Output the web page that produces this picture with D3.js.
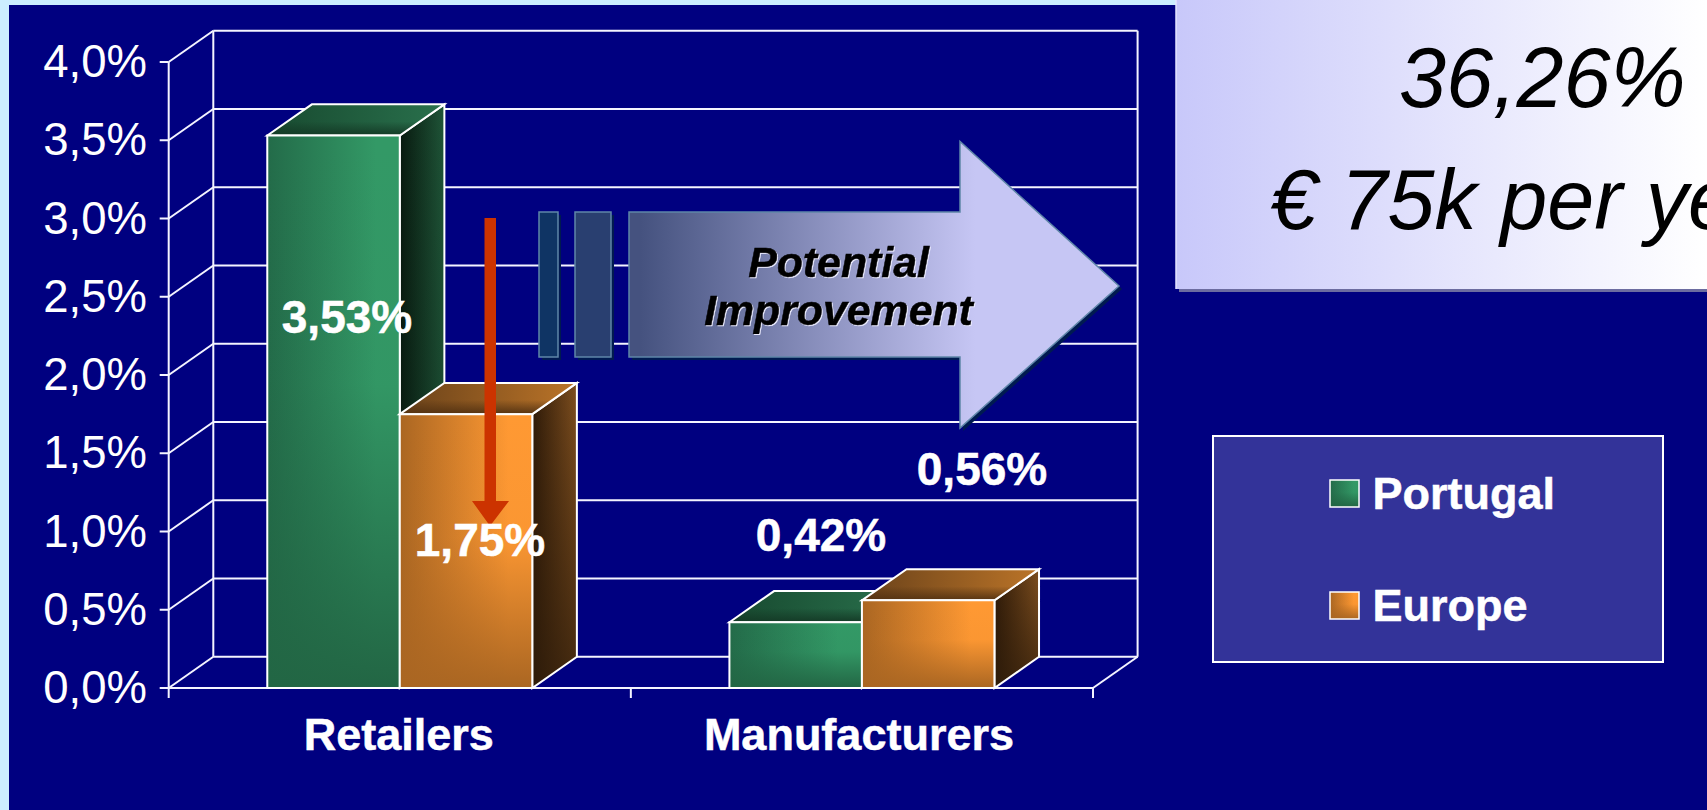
<!DOCTYPE html>
<html><head><meta charset="utf-8">
<script src="https://cdn.jsdelivr.net/npm/d3@7"></script>
<style>
html,body{margin:0;padding:0;background:#cceeff;overflow:hidden}
svg{display:block;font-family:"Liberation Sans",Arial,sans-serif}
</style></head><body>
<svg id="c" width="1707" height="810"></svg>
<script>
const categories = ["Retailers", "Manufacturers"];
const seriesNames = ["Portugal", "Europe"];
const portugal = [3.53, 0.42];
const europe = [1.75, 0.56];
const yTicks = [0, 0.5, 1, 1.5, 2, 2.5, 3, 3.5, 4];
const calloutLines = ["36,26%", "€ 75k per year"];
const arrowLines = ["Potential", "Improvement"];

const W = 1707, H = 810;
const svg = d3.select("#c");
const defs = svg.append("defs");
const fmt = v => v.toFixed(1).replace(".", ",") + "%";
const fmt2 = v => v.toFixed(2).replace(".", ",") + "%";

const y = d3.scaleLinear().domain([0, 4]).range([688, 62]);
const x0 = d3.scaleBand().domain(categories).range([168.7, 1093]);
const x1 = d3.scaleBand().domain(seriesNames).range([-132.5, 132.5]);
const DX = 44.6, DY = -31.2;

function grad(id, stops, dir) {
  const g = defs.append("linearGradient").attr("id", id)
    .attr("x1", 0).attr("y1", 0)
    .attr("x2", dir === "v" ? 0 : 1).attr("y2", dir === "v" ? 1 : 0);
  stops.forEach(s => g.append("stop").attr("offset", s[0]).attr("stop-color", s[1]).attr("stop-opacity", s[2] === undefined ? 1 : s[2]));
}
// green
grad("gF", [[0, "#236b49"], [.82, "#339966"], [1, "#339966"]]);
grad("gFo", [[0, "#226644", 0], [.45, "#226644", 0.05], [1, "#226644", 1]], "v");
grad("gS", [[0, "#08190f"], [1, "#1f5538"]]);
grad("gSo", [[0, "#0a2014", 0], [1, "#0a2014", .35]], "v");
grad("gT", [[0, "#184a30"], [1, "#29704c"]]);
grad("gTo", [[0, "#143a26", 0], [.55, "#143a26", 0], [1, "#143a26", 1]], "v");
// orange
grad("oF", [[0, "#aa6622"], [.82, "#ff9933"], [1, "#ff9933"]]);
grad("oFo", [[0, "#aa6622", 0], [.45, "#aa6622", 0.05], [1, "#aa6622", 1]], "v");
grad("oS", [[0, "#2e1a08"], [1, "#7f4f1f"]]);
grad("oSo", [[0, "#2e1c0a", 0], [1, "#2e1c0a", .75]], "v");
grad("oT", [[0, "#6a421a"], [1, "#bb7428"]]);
grad("oTo", [[0, "#553312", 0], [.55, "#553312", 0], [1, "#553312", 1]], "v");
grad("callout", [[0, "#c8c8fa"], [1, "#ffffff"]]);
grad("shaft", [[0, "#45527f"], [1, "#c6c6f4"]]);
defs.select("#callout").attr("gradientUnits", "userSpaceOnUse")
  .attr("x1", 1176).attr("x2", 1707).attr("y1", 0).attr("y2", 0);
defs.select("#shaft").attr("gradientUnits", "userSpaceOnUse")
  .attr("x1", 640).attr("x2", 975).attr("y1", 0).attr("y2", 0);

// background
svg.append("rect").attr("x", 9).attr("y", 5).attr("width", W - 9).attr("height", H - 5).attr("fill", "#000080");

// walls
const grid = svg.append("g").attr("stroke", "#f4f4ff").attr("stroke-width", 2).attr("fill", "none");
const x_l = x0.range()[0], x_r = x0.range()[1];
grid.selectAll("line.g").data(yTicks).join("line").attr("class", "g")
  .attr("x1", x_l + DX).attr("x2", x_r + DX).attr("y1", d => y(d) + DY).attr("y2", d => y(d) + DY);
grid.selectAll("line.d").data(yTicks).join("line").attr("class", "d")
  .attr("x1", x_l).attr("x2", x_l + DX).attr("y1", d => y(d)).attr("y2", d => y(d) + DY);
grid.selectAll("line.t").data(yTicks).join("line").attr("class", "t")
  .attr("x1", x_l - 9).attr("x2", x_l).attr("y1", d => y(d)).attr("y2", d => y(d));
grid.append("line").attr("x1", x_l + DX).attr("x2", x_l + DX).attr("y1", y(4) + DY).attr("y2", y(0) + DY);
grid.append("line").attr("x1", x_r + DX).attr("x2", x_r + DX).attr("y1", y(4) + DY).attr("y2", y(0) + DY);
grid.append("line").attr("x1", x_l).attr("x2", x_l).attr("y1", y(4)).attr("y2", y(0) + 10);
grid.append("line").attr("x1", x_l).attr("x2", x_r).attr("y1", y(0)).attr("y2", y(0));
grid.append("line").attr("x1", x_r).attr("x2", x_r + DX).attr("y1", y(0)).attr("y2", y(0) + DY);
[x_l + x0.step(), x_r].forEach(v => grid.append("line").attr("x1", v).attr("x2", v).attr("y1", y(0)).attr("y2", y(0) + 10));

// y labels
svg.append("g").selectAll("text").data(yTicks).join("text")
  .attr("x", 147).attr("y", d => y(d) + 15).attr("text-anchor", "end")
  .attr("font-size", 45.5).attr("fill", "#fff").text(fmt);
// category labels
svg.append("g").selectAll("text").data(categories).join("text")
  .attr("x", (d, i) => x0(d) + x0.bandwidth() / 2 - 1 - i * 2).attr("y", 750).attr("text-anchor", "middle")
  .attr("font-size", 45).attr("font-weight", "bold").attr("fill", "#fff")
  .attr("stroke", "#fff").attr("stroke-width", 0.5).text(d => d);

// 3-D bars
const bars = [];
categories.forEach((c, i) => {
  bars.push({ c, s: seriesNames[0], v: portugal[i], k: "g" });
  bars.push({ c, s: seriesNames[1], v: europe[i], k: "o" });
});
const pts = a => a.map(p => p.join(",")).join(" ");
const barG = svg.append("g");
bars.forEach(b => {
  const cx = x0(b.c) + x0.bandwidth() / 2;
  const l = cx + x1(b.s), r = l + x1.bandwidth(), t = y(b.v), f = y(0);
  const faces = [
    ["S", [[r, t], [r + DX, t + DY], [r + DX, f + DY], [r, f]]],
    ["T", [[l, t], [l + DX, t + DY], [r + DX, t + DY], [r, t]]],
    ["F", [[l, t], [r, t], [r, f], [l, f]]]
  ];
  const g = barG.append("g").attr("class", "bar");
  faces.forEach(([n, p]) => {
    g.append("polygon").attr("points", pts(p)).attr("fill", `url(#${b.k}${n})`);
    g.append("polygon").attr("points", pts(p)).attr("fill", `url(#${b.k}${n}o)`)
      .attr("stroke", "#fff").attr("stroke-width", 2).attr("stroke-linejoin", "miter");
  });
});

// notched block arrow
const arrow = svg.append("g");
const shaftPts = [[629, 212], [960, 212], [960, 141.5], [1119, 286], [960, 428], [960, 357], [629, 357]];
const block1 = [[539, 212], [558, 212], [558, 357], [539, 357]];
const block2 = [[575, 212], [611, 212], [611, 357], [575, 357]];
[[block1, "#0f3464"], [block2, "#293f70"], [shaftPts, "url(#shaft)"]].forEach(([p, fill]) => {
  arrow.append("polygon").attr("points", pts(p)).attr("fill", "#001a50").attr("transform", "translate(3,3)");
  arrow.append("polygon").attr("points", pts(p)).attr("fill", fill).attr("stroke", "#5f86a8").attr("stroke-width", 1.5);
});
arrow.append("g").selectAll("text").data(arrowLines).join("text")
  .attr("x", 838.5).attr("y", (d, i) => 277 + i * 47.5).attr("text-anchor", "middle")
  .attr("font-size", 42.8).attr("font-weight", "bold").attr("font-style", "italic")
  .attr("fill", "#000").attr("stroke", "#000").attr("stroke-width", 0.5)
  .style("filter", "drop-shadow(1.5px 1.5px 0.6px #eeeeff)").text(d => d);

// red arrow
svg.append("polygon").attr("fill", "#cc3300")
  .attr("points", pts([[484.5, 218], [496, 218], [496, 501], [509, 501], [490, 526], [472, 501], [484.5, 501]]));

// value labels
const labelPos = [[347, 333], [480, 556], [821, 551], [982, 485]];
svg.append("g").selectAll("text").data(bars).join("text")
  .attr("x", (d, i) => labelPos[i][0]).attr("y", (d, i) => labelPos[i][1])
  .attr("text-anchor", "middle").attr("font-size", 46).attr("font-weight", "bold")
  .attr("fill", "#fff").attr("stroke", "#fff").attr("stroke-width", 0.5).text(d => fmt2(d.v));

// callout box
svg.append("rect").attr("x", 1179).attr("y", -10).attr("width", 600).attr("height", 302).attr("fill", "#6c6ca0");
svg.append("rect").attr("x", 1176).attr("y", -10).attr("width", 600).attr("height", 299).attr("fill", "url(#callout)");
svg.append("line").attr("x1", 1176).attr("x2", 1176).attr("y1", 0).attr("y2", 289).attr("stroke", "#e4e4ff").attr("stroke-width", 1.5);
svg.append("g").selectAll("text").data(calloutLines).join("text")
  .attr("x", (d, i) => [1399, 1270][i]).attr("y", (d, i) => [107, 229][i])
  .attr("font-size", 84.5).attr("font-style", "italic").attr("fill", "#000").text(d => d);

// legend
svg.append("rect").attr("x", 1213).attr("y", 436).attr("width", 450).attr("height", 226)
  .attr("fill", "#333399").attr("stroke", "#fff").attr("stroke-width", 2);
const leg = svg.append("g").selectAll("g").data(seriesNames).join("g")
  .attr("transform", (d, i) => `translate(1330,${[480, 592][i]})`);
leg.each(function (d, i) {
  const g = d3.select(this), k = i ? "o" : "g";
  g.append("rect").attr("width", 29).attr("height", 27).attr("fill", `url(#${k}F)`);
  g.append("rect").attr("width", 29).attr("height", 27).attr("fill", `url(#${k}Fo)`).attr("stroke", "#fff").attr("stroke-width", 1.5);
  g.append("text").attr("x", 42.5).attr("y", 29).attr("font-size", 45).attr("font-weight", "bold").attr("fill", "#fff")
    .attr("stroke", "#fff").attr("stroke-width", 0.5).text(d);
});
</script>
</body></html>
